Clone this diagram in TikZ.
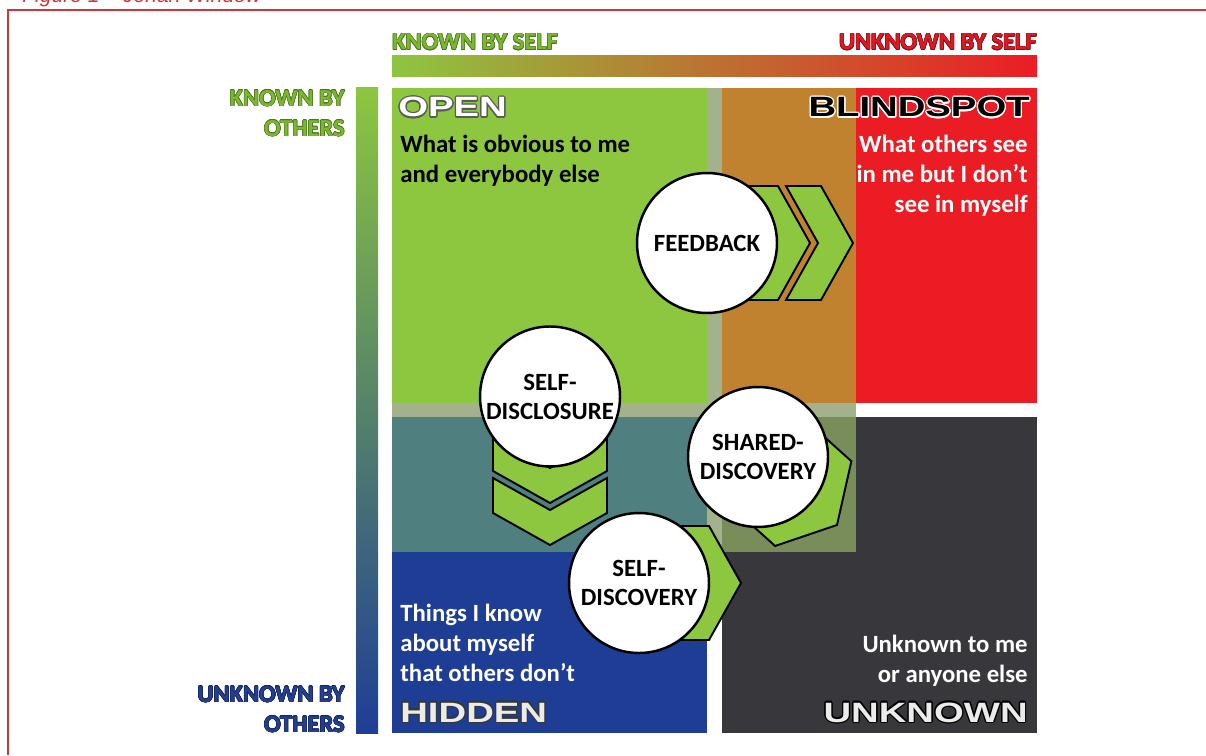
\documentclass[tikz,border=0pt]{standalone}
\usepackage{fontspec}
\setmainfont{Carlito}
\newfontfamily\titlefont[FakeStretch=1.37]{Liberation Sans}
\newfontfamily\capfont{Liberation Sans}
\usepackage[copies]{contour}
\contourlength{0.7pt}
\usetikzlibrary{positioning}

\definecolor{opengreen}{RGB}{141,198,63}
\definecolor{stripgreen}{RGB}{163,178,140}
\definecolor{blindorange}{RGB}{193,130,48}
\definecolor{blindred}{RGB}{236,28,36}
\definecolor{hiddenteal}{RGB}{80,127,128}
\definecolor{hiddenblue}{RGB}{30,62,150}
\definecolor{unknowndark}{RGB}{56,56,60}
\definecolor{sharedolive}{RGB}{121,141,91}
\definecolor{midorange}{RGB}{198,138,50}
\definecolor{midteal}{RGB}{80,138,122}
\definecolor{framered}{RGB}{205,55,60}
\definecolor{labelgreen}{RGB}{122,184,48}
\definecolor{labelgreendark}{RGB}{78,118,34}
\definecolor{labelred}{RGB}{220,26,36}
\definecolor{labelreddark}{RGB}{140,18,24}
\definecolor{labelblue}{RGB}{36,62,146}
\definecolor{labelbluedark}{RGB}{22,36,90}
\definecolor{titlegray}{RGB}{90,90,90}

\tikzstyle{stage} = [circle, draw=black, line width=1.4pt, fill=white, minimum size=2.8cm, inner sep=0pt, align=center, font=\bfseries\fontsize{14.1}{16.5}\selectfont]
\tikzstyle{quadtext} = [inner sep=0pt, font=\bfseries\fontsize{14.1}{17.1}\selectfont]
\tikzstyle{title} = [inner sep=0pt, font=\titlefont\bfseries\fontsize{15.9}{18}\selectfont]
\tikzstyle{axis} = [inner sep=0pt, font=\bfseries\fontsize{13.9}{17.1}\selectfont]
\tikzset{
	chevron/.pic = {
		\draw[line width=1.1pt, fill=opengreen, line join=miter]
			(0,0) -- (-32,57) -- (-67,57) -- (-35,0) -- (-67,-57) -- (-32,-57) -- cycle;
	}
}

\begin{document}
\begin{tikzpicture}[x=0.02cm, y=0.02cm]
\useasboundingbox (0,0) rectangle (1206,755);

% caption and frame
\node (caption) [anchor=base west, inner sep=0pt, text=framered, font=\capfont\itshape\fontsize{12}{14}\selectfont] at (22,752) {Figure 1 – Johari Window};
\draw [framered, line width=1.1pt] (8,0) -- (8,745) -- (1206,745);

% gradient bars
\shade [left color=opengreen, middle color=midorange, right color=blindred] (392,678) rectangle (1037,699);
\shade [top color=opengreen, middle color=midteal, bottom color=hiddenblue] (356,22) rectangle (378,667);

% quadrants
\fill [unknowndark] (722,22) rectangle (1037,338);
\fill [stripgreen] (392,203) rectangle (856,667);
\fill [opengreen] (392,352) rectangle (707,667);
\fill [blindorange] (722,352) rectangle (856,667);
\fill [blindred] (856,352) rectangle (1037,667);
\fill [hiddenteal] (392,203) rectangle (707,338);
\fill [sharedolive] (722,203) rectangle (856,338);
\fill [hiddenblue] (392,22) rectangle (707,203);

% axis labels
\contourlength{0.3pt}
\node (knownself) [axis, anchor=base west] at (392,705) {\color{labelgreen}\contour{labelgreendark}{KNOWN BY SELF}};
\node (unknownself) [axis, anchor=base east] at (1037,705) {\color{labelred}\contour{labelreddark}{UNKNOWN BY SELF}};
\node (knownothers) [axis, anchor=north east, align=right] at (345,665) {\color{labelgreen}\contour{labelgreendark}{KNOWN BY}\\\color{labelgreen}\contour{labelgreendark}{OTHERS}};
\node (unknownothers) [axis, anchor=north east, align=right] at (345,69) {\color{labelblue}\contour{labelbluedark}{UNKNOWN BY}\\\color{labelblue}\contour{labelbluedark}{OTHERS}};

% quadrant titles and texts
\contourlength{0.7pt}
\node (opentitle) [title, anchor=base west] at (398,638) {\color{white}\contour{titlegray}{OPEN}};
\node (blindtitle) [title, anchor=base east] at (1030,638) {\color{black}\contour{white}{BLINDSPOT}};
\node (hiddentitle) [title, anchor=base west] at (400,33) {\color{white!92!black}\contour{titlegray!60!black}{HIDDEN}};
\node (unknowntitle) [title, anchor=base east] at (1028,33) {\color{white!92!black}\contour{black}{UNKNOWN}};

\node (opentext) [quadtext, anchor=north west, align=left] at (400,620) {What is obvious to me\\and everybody else};
\node (blindtext) [quadtext, anchor=north east, align=right, text=white] at (1028,620) {What others see\\in me but I don’t\\see in myself};
\node (hiddentext) [quadtext, anchor=north west, align=left, text=white] at (400,151) {Things I know\\about myself\\that others don’t};
\node (unknowntext) [quadtext, anchor=north east, align=right, text=white] at (1028,120) {Unknown to me\\or anyone else};

% chevrons behind the circles
\coordinate (fbpos) at (707,512);
\coordinate (sdpos) at (550,355);
\coordinate (shpos) at (758,298);
\coordinate (scpos) at (639,172);
\pic at ([shift={(103,0)}]fbpos) {chevron};
\pic at ([shift={(146,0)}]fbpos) {chevron};
\pic [rotate=-90] at ([shift={(0,-103)}]sdpos) {chevron};
\pic [rotate=-90] at ([shift={(0,-145)}]sdpos) {chevron};
\pic [rotate=-42] at ([shift={(79,-68)}]shpos) {chevron};
\pic at ([shift={(102,0)}]scpos) {chevron};

% circles
\node (feedback) [stage] at (fbpos) {FEEDBACK};
\node (selfdisclosure) [stage] at ([yshift=2]sdpos) {SELF-\\DISCLOSURE};
\node (shareddiscovery) [stage] at (shpos) {SHARED-\\DISCOVERY};
\node (selfdiscovery) [stage] at (scpos) {SELF-\\DISCOVERY};
\end{tikzpicture}
\end{document}
